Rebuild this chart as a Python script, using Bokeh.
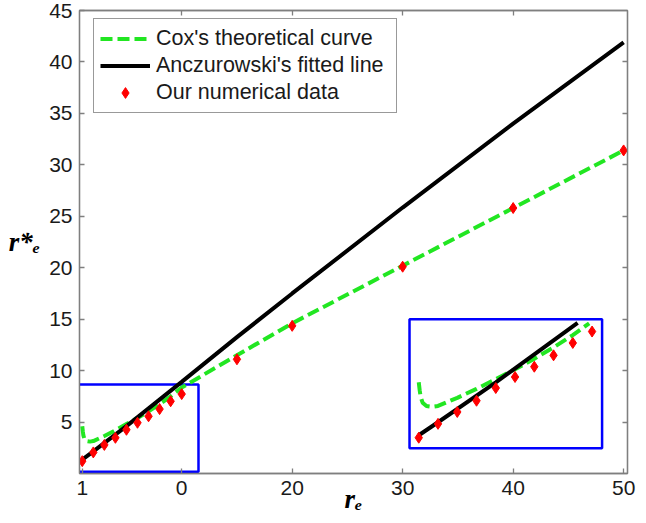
import numpy as np
from bokeh.plotting import figure
from bokeh.models import Range1d, LinearAxis, FixedTicker, Legend, LegendItem
from bokeh.embed import file_html
from bokeh.resources import INLINE

# ---------------- data ----------------
cox_x = [1.0, 1.05, 1.1, 1.2, 1.4, 1.7, 2, 3, 4, 5, 6, 7, 8, 9, 10, 15, 20, 30, 40, 50]
cox_y = [4.6, 4.1, 3.7, 3.35, 3.15, 3.1, 3.15, 3.65, 4.2, 4.8, 5.4, 6.05, 6.75, 7.5, 8.35,
         11.5, 14.6, 20.2, 25.8, 31.4]

anc_x = [1, 2, 5, 10, 15, 20, 30, 40, 50]
anc_y = [1.35, 2.15, 4.6, 8.9, 13.25, 17.5, 25.85, 34.0, 41.9]

num_x = [1, 2, 3, 4, 5, 6, 7, 8, 9, 10, 15, 20, 30, 40, 50]
num_y = [1.2, 2.05, 2.78, 3.47, 4.25, 4.93, 5.56, 6.26, 7.02, 7.72, 11.1, 14.35, 20.1, 25.8, 31.4]

x_ticks = [1, 10, 20, 30, 40, 50]
x_tick_labels = ["1", "0", "20", "30", "40", "50"]
y_ticks = [5, 10, 15, 20, 25, 30, 35, 40, 45]

legend_labels = ["Cox's theoretical curve", "Anczurowski's fitted line", "Our numerical data"]
x_title = "r\u2091"
y_title = "r*\u2091"

# zoom window (data) and where the magnified copy is placed (data of main axes)
zoom_win = (0.52, 10.52, 0.55, 8.48)
inset_win = (30.62, 48.05, 2.45, 15.0)
small_box = (0.45, 11.52, 0.17, 8.66)
black_clip = 9.25
green_clip = 9.85

GREEN = "#22e622"
GRAY = "#7f7f7f"
TXT = "#1a1a1a"

p = figure(width=646, height=523, output_backend="svg", toolbar_location=None,
           x_range=Range1d(0.75, 50.35), y_range=Range1d(0, 45),
           min_border_left=79, min_border_right=19, min_border_top=10, min_border_bottom=50)
p.xgrid.grid_line_color = None
p.ygrid.grid_line_color = None
p.outline_line_color = GRAY
p.outline_line_width = 1.3
p.background_fill_color = "white"
p.border_fill_color = "white"

def style_axis(ax, show_labels=True, standoff=7):
    ax.axis_line_color = GRAY
    ax.axis_line_width = 1.3
    ax.major_tick_line_color = GRAY
    ax.major_tick_line_width = 1.3
    ax.major_tick_in = 5
    ax.major_tick_out = 0
    ax.minor_tick_line_color = None
    ax.major_label_text_font = "Liberation Sans"
    ax.major_label_text_font_size = "21px"
    ax.major_label_text_color = TXT
    ax.major_label_standoff = standoff if show_labels else 0

p.xaxis.ticker = FixedTicker(ticks=x_ticks)
p.xaxis.major_label_overrides = {t: l for t, l in zip(x_ticks, x_tick_labels)}
p.yaxis.ticker = FixedTicker(ticks=y_ticks)
style_axis(p.xaxis[0], True, 7)
style_axis(p.yaxis[0], True, 7)

for ax, title, so in ((p.xaxis[0], x_title, -14), (p.yaxis[0], y_title, 6)):
    ax.axis_label = title
    ax.axis_label_text_font = "Liberation Serif"
    ax.axis_label_text_font_style = "bold italic"
    ax.axis_label_text_font_size = "27px"
    ax.axis_label_text_color = "black"
    ax.axis_label_standoff = so
p.yaxis[0].axis_label_orientation = "horizontal"

top_ticks = x_ticks[1:-1]
right_ticks = y_ticks[:-1]
top_ax = LinearAxis(ticker=FixedTicker(ticks=top_ticks))
right_ax = LinearAxis(ticker=FixedTicker(ticks=right_ticks))
style_axis(top_ax, False)
style_axis(right_ax, False)
top_ax.major_label_overrides = {t: "" for t in top_ticks}
right_ax.major_label_overrides = {t: "" for t in right_ticks}
p.add_layout(top_ax, "above")
p.add_layout(right_ax, "right")

# ---------------- boxes ----------------
p.quad(left=[small_box[0], inset_win[0]], right=[small_box[1], inset_win[1]],
       bottom=[small_box[2], inset_win[2]], top=[small_box[3], inset_win[3]],
       fill_color=None, line_color="#0000ff", line_width=2.5)

# ---------------- main curves ----------------
r_cox = p.line(cox_x, cox_y, line_color=GREEN, line_width=4, line_dash="12 5")
r_anc = p.line(anc_x, anc_y, line_color="black", line_width=4)
p.scatter(num_x, num_y, marker="diamond", size=11, color="red")

# ---------------- magnified inset ----------------
def to_inset(xs, ys):
    xs = np.asarray(xs, float); ys = np.asarray(ys, float)
    zx0, zx1, zy0, zy1 = zoom_win
    ix0, ix1, iy0, iy1 = inset_win
    return (ix0 + (xs - zx0) * (ix1 - ix0) / (zx1 - zx0),
            iy0 + (ys - zy0) * (iy1 - iy0) / (zy1 - zy0))

def clip(xs, ys, xmax):
    xs = np.asarray(xs, float); ys = np.asarray(ys, float)
    keep = xs <= xmax
    cx = list(xs[keep]) + [xmax]
    cy = list(ys[keep]) + [float(np.interp(xmax, xs, ys))]
    return cx, cy

gx, gy = to_inset(*clip(cox_x, cox_y, green_clip))
bx, by = to_inset(*clip(anc_x, anc_y, black_clip))
sel = [i for i, x in enumerate(num_x) if x <= 10]
dx, dy = to_inset([num_x[i] for i in sel], [num_y[i] for i in sel])
p.line(gx, gy, line_color=GREEN, line_width=4, line_dash="12 5")
p.line(bx, by, line_color="black", line_width=4)
p.scatter(dx, dy, marker="diamond", size=11, color="red")

# legend-only small diamond
r_leg_d = p.scatter([-100], [-100], marker="diamond", size=8, color="red")

legend = Legend(items=[LegendItem(label=legend_labels[0], renderers=[r_cox]),
                       LegendItem(label=legend_labels[1], renderers=[r_anc]),
                       LegendItem(label=legend_labels[2], renderers=[r_leg_d])],
                location=(14, 360))
legend.label_text_font = "Liberation Sans"
legend.label_text_font_size = "21.5px"
legend.label_text_color = TXT
legend.border_line_color = "#333333"
legend.border_line_width = 1.2
legend.background_fill_color = "white"
legend.background_fill_alpha = 1
legend.padding = 6
legend.spacing = 0
legend.margin = 0
legend.glyph_width = 50
legend.glyph_height = 27
legend.label_height = 27
legend.label_width = 234
legend.label_standoff = 6
p.add_layout(legend)

open("out.html", "w").write(file_html(p, INLINE))
